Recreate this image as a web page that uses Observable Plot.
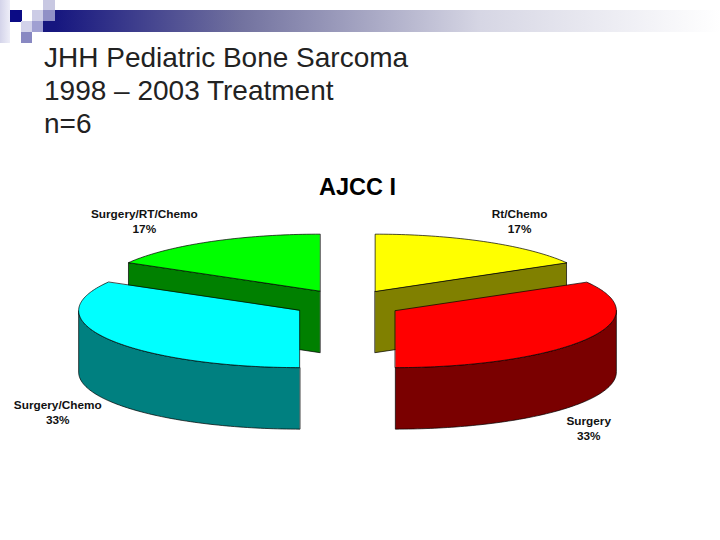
<!DOCTYPE html>
<html>
<head>
<meta charset="utf-8">
<script src="https://cdn.jsdelivr.net/npm/d3@7"></script>
<script src="https://cdn.jsdelivr.net/npm/@observablehq/plot@0.6"></script>
<style>
  html, body { margin: 0; padding: 0; background: #fff; }
  #page { position: relative; width: 720px; height: 540px; overflow: hidden; font-family: "Liberation Sans", Arial, sans-serif; }
  #head { position: relative; width: 720px; height: 160px; }
  .sq { position: absolute; }
  #title { position: absolute; left: 44px; top: 41px; font-size: 28px; line-height: 33px; color: #222; white-space: pre; }
</style>
</head>
<body>
<div id="page">
  <div id="head">
    <div class="sq" style="left:0;top:0;width:10px;height:43px;background:linear-gradient(90deg,#d4d4ea,#eeeef8)"></div>
    <div class="sq" style="left:10px;top:10px;width:12px;height:12px;background:#0b0b85"></div>
    <div class="sq" style="left:32px;top:10px;width:11px;height:11px;background:#ccccE6"></div>
    <div class="sq" style="left:43px;top:0;width:12px;height:10px;background:#c8c8e2"></div>
    <div class="sq" style="left:43px;top:10px;width:12px;height:11px;background:#9090c6"></div>
    <div class="sq" style="left:21px;top:21px;width:11px;height:11px;background:#d2d2ea"></div>
    <div class="sq" style="left:32px;top:21px;width:11px;height:11px;background:#a0a0d2"></div>
    <div class="sq" style="left:21px;top:32px;width:11px;height:11px;background:#8888c2"></div>
    <div class="sq" style="left:43px;top:21px;width:12px;height:11px;background:#16167f"></div>
    <div class="sq" style="left:55px;top:10px;width:665px;height:22px;background:linear-gradient(90deg,#16167f 0%,#72729f 28%,#d6d6e4 64%,#ffffff 100%)"></div>
    <div id="title"></div>
  </div>
  <div id="chart"></div>
</div>
<script>
const titleLines = ["JHH Pediatric Bone Sarcoma", "1998 – 2003 Treatment", "n=6"];
const chartTitle = "AJCC I";
const categories = ["Rt/Chemo", "Surgery", "Surgery/Chemo", "Surgery/RT/Chemo"];
const patients = [1, 2, 2, 1];
const percents = [17, 33, 33, 17];

const topColors = ["#ffff00", "#ff0000", "#00ffff", "#00ff00"];
const sideColors = ["#808000", "#7a0000", "#008080", "#008000"];

// Oblique 3D pie geometry
const headH = 160;
const pie3d = { cx: 347, cy: 303, rx: 221, ry: 57, depth: 61.5, explode: 0.25 };
const drawOrder = [0, 3, 1, 2];
// Label offsets from each slice's exploded rim direction
const labelOffset = [[34, -21.5], [2, 89], [-50.5, 73], [-65, -21]];

document.getElementById("title").textContent = titleLines.join("\n");

const arcs = d3.pie().sort(null)(patients);
const px = (x0, r, a) => x0 + r * pie3d.rx * Math.sin(a);
const py = (y0, r, a) => y0 - r * pie3d.ry * Math.cos(a);

const rows = [];
function face(part, fill, pts) {
  for (const [x, y] of pts) rows.push({ part, fill, x, y });
}
function arcPts(a0, a1, x0, y0, dy) {
  const n = Math.max(2, Math.ceil((a1 - a0) / 0.02));
  return d3.range(n + 1).map(i => {
    const a = a0 + (a1 - a0) * i / n;
    return [px(x0, 1, a), py(y0, 1, a) + dy];
  });
}
drawOrder.forEach(i => {
  const { startAngle: s, endAngle: e } = arcs[i];
  const m = (s + e) / 2;
  const ox = px(pie3d.cx, pie3d.explode, m);
  const oy = py(pie3d.cy, pie3d.explode, m);
  const d = pie3d.depth;
  const edge = a => [px(ox, 1, a), py(oy, 1, a)];
  // radial walls that face the viewer
  if (-Math.sin(s) > 1e-6) {
    const [x, y] = edge(s);
    face(i + "-start", sideColors[i], [[ox, oy], [x, y], [x, y + d], [ox, oy + d]]);
  }
  if (Math.sin(e) > 1e-6) {
    const [x, y] = edge(e);
    face(i + "-end", sideColors[i], [[ox, oy], [x, y], [x, y + d], [ox, oy + d]]);
  }
  // outer rim, front half only
  const r0 = Math.max(s, Math.PI / 2), r1 = Math.min(e, 3 * Math.PI / 2);
  if (r1 > r0) {
    const top = arcPts(r0, r1, ox, oy, 0);
    const bottom = arcPts(r0, r1, ox, oy, d).reverse();
    face(i + "-rim", sideColors[i], [...top, ...bottom]);
  }
  // top face
  face(i + "-top", topColors[i], [[ox, oy], ...arcPts(s, e, ox, oy, 0)]);
});

const labels = arcs.map((a, i) => {
  const m = (a.startAngle + a.endAngle) / 2;
  return {
    text: categories[i] + "\n" + percents[i] + "%",
    x: px(pie3d.cx, 1.25, m) + labelOffset[i][0],
    y: py(pie3d.cy, 1.25, m) + labelOffset[i][1]
  };
});

const plot = Plot.plot({
  width: 720,
  height: 540 - headH,
  margin: 0,
  x: { domain: [0, 720], range: [0, 720], axis: null },
  y: { domain: [headH, 540], range: [0, 540 - headH], axis: null },
  style: { fontFamily: '"Liberation Sans", Arial, sans-serif', background: "transparent" },
  marks: [
    Plot.line(rows, { x: "x", y: "y", z: "part", fill: "fill", stroke: "#000", strokeWidth: 0.7, curve: "linear-closed" }),
    Plot.text(labels, { x: "x", y: "y", text: "text", fontSize: 11.8, fontWeight: "bold", fill: "#111", lineHeight: 1.27, textAnchor: "middle" }),
    Plot.text([chartTitle], { x: [357], y: [187], text: d => d, fontSize: 23.5, fontWeight: "bold", fill: "#000" })
  ]
});
document.getElementById("chart").appendChild(plot);
</script>
</body>
</html>
